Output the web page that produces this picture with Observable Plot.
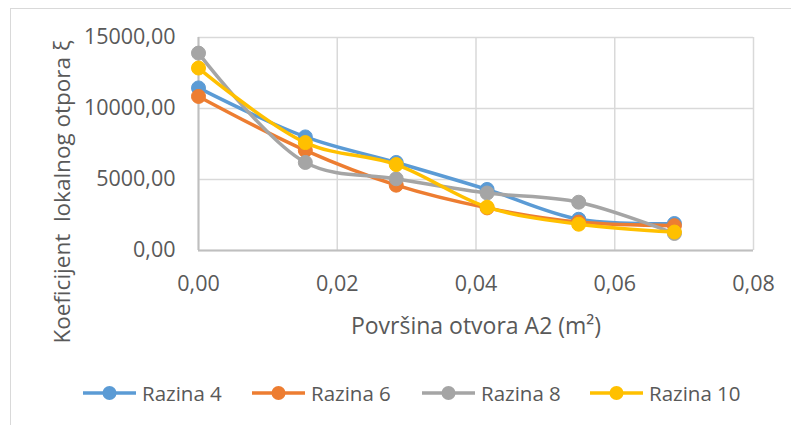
<!DOCTYPE html>
<html>
<head>
<meta charset="utf-8">
<script src="https://cdn.jsdelivr.net/npm/d3@7"></script>
<script src="https://cdn.jsdelivr.net/npm/@observablehq/plot@0.6"></script>
<style>
  html, body { margin: 0; padding: 0; background: #fff; overflow: hidden; }
  #wrap { position: relative; width: 791px; height: 425px; font-family: "Open Sans", sans-serif; }
  #frame { position: absolute; left: 10px; top: 8px; width: 900px; height: 600px; border: 1.5px solid #d9d9d9; box-sizing: border-box; }
  #chart { position: absolute; left: 0; top: 0; }
  #legend { position: absolute; left: 0; top: 345px; width: 791px; height: 80px; }
  .item { position: absolute; top: 34px; display: flex; align-items: center; color: #595959; font-size: 20.5px; }
  .item svg { margin-right: 6px; }
</style>
</head>
<body>
<div id="wrap">
  <div id="frame"></div>
  <div id="chart"></div>
  <div id="legend"></div>
</div>
<script>
const xs = [0, 0.0154, 0.0285, 0.0416, 0.0548, 0.0686];
const seriesNames = ["Razina 4", "Razina 6", "Razina 8", "Razina 10"];
const razina4 = [11450, 8000, 6200, 4300, 2200, 1900];
const razina6 = [10850, 7050, 4600, 3000, 2000, 1750];
const razina8 = [13900, 6200, 5050, 4050, 3400, 1200];
const razina10 = [12850, 7600, 6050, 3050, 1850, 1300];
const colors = ["#5B9BD5", "#ED7D31", "#A5A5A5", "#FFC000"];
const xTicks = [0, 0.02, 0.04, 0.06, 0.08];
const yTicks = [0, 5000, 10000, 15000];

const allSeries = [razina4, razina6, razina8, razina10];
const data = [];
allSeries.forEach((vals, i) => vals.forEach((v, j) => data.push({series: seriesNames[i], x: xs[j], y: v})));

const fmt = d => d.toFixed(2).replace(".", ",");
const marks = [
  Plot.gridX(xTicks, {stroke: "#d9d9d9", strokeOpacity: 1, strokeWidth: 1.5}),
  Plot.gridY(yTicks, {stroke: "#d9d9d9", strokeOpacity: 1, strokeWidth: 1.5}),
  Plot.ruleX([0], {stroke: "#bfbfbf", strokeWidth: 2}),
  Plot.ruleY([0], {stroke: "#bfbfbf", strokeWidth: 2}),
  Plot.axisX(xTicks, {tickSize: 0, tickPadding: 25, tickFormat: fmt, fontSize: 21.5, fill: "#595959", label: null}),
  Plot.axisY(yTicks, {tickSize: 0, tickPadding: 23, tickFormat: fmt, fontSize: 21.5, fill: "#595959", label: null}),
  Plot.text(["Površina otvora A2 (m²)"], {frameAnchor: "bottom", dy: 76, fontSize: 23, fill: "#595959", lineAnchor: "middle"}),
  Plot.text(["Koeficijent  lokalnog otpora ξ"], {frameAnchor: "left", textAnchor: "middle", dx: -136, dy: 48, rotate: -90, fontSize: 22.5, fill: "#595959", lineAnchor: "middle"})
];
seriesNames.forEach((name, i) => {
  const sd = data.filter(d => d.series === name);
  marks.push(Plot.line(sd, {x: "x", y: "y", stroke: colors[i], strokeWidth: 3.5, curve: "catmull-rom"}));
  marks.push(Plot.dot(sd, {x: "x", y: "y", fill: colors[i], r: 7, stroke: colors[i], strokeWidth: 1}));
});

const plot = Plot.plot({
  width: 791,
  height: 345,
  marginLeft: 198,
  marginRight: 38,
  marginTop: 37,
  marginBottom: 95,
  style: {fontFamily: "Open Sans, sans-serif", background: "transparent", overflow: "visible"},
  x: {domain: [0, 0.08]},
  y: {domain: [0, 15000]},
  marks
});
document.getElementById("chart").appendChild(plot);

const legendX = [83, 252, 422, 590];
const legend = document.getElementById("legend");
seriesNames.forEach((name, i) => {
  const div = document.createElement("div");
  div.className = "item";
  div.style.left = legendX[i] + "px";
  div.innerHTML = `<svg width="53" height="16"><line x1="0" x2="53" y1="8" y2="8" stroke="${colors[i]}" stroke-width="3.5"/><circle cx="26.5" cy="8" r="7" fill="${colors[i]}"/></svg><span>${name}</span>`;
  legend.appendChild(div);
});
</script>
</body>
</html>
